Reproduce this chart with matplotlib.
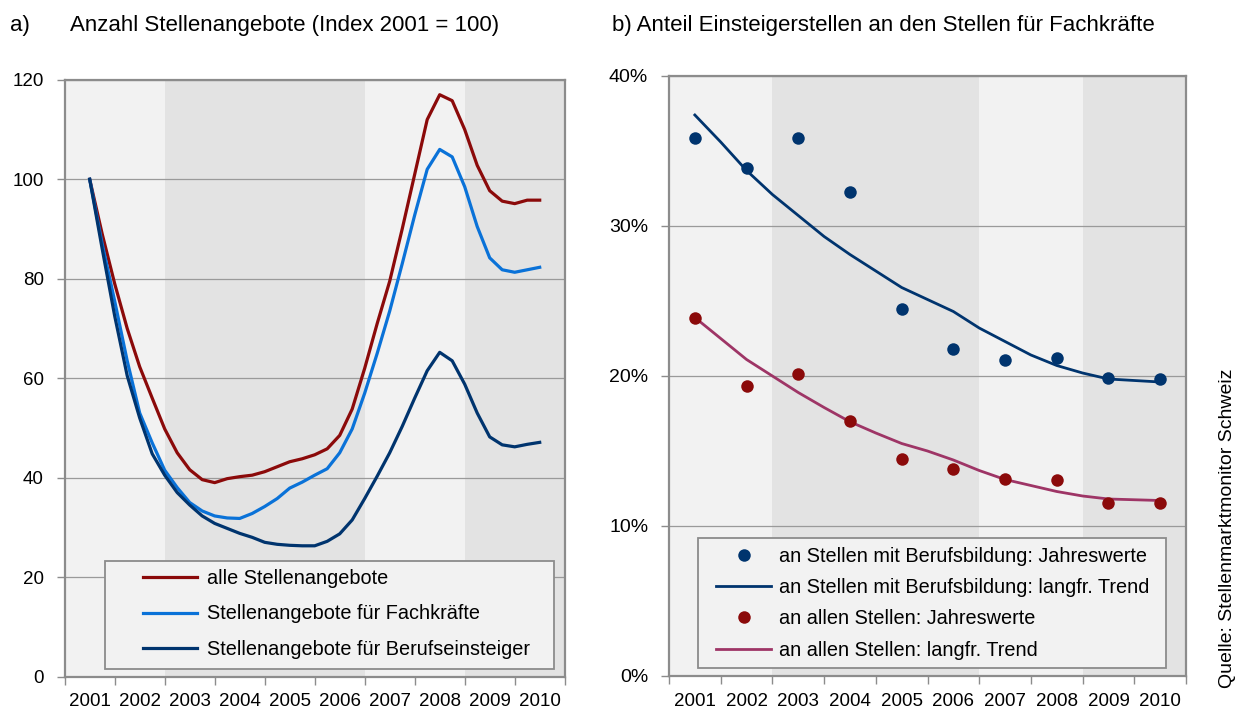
import numpy as np
import matplotlib
matplotlib.use('Agg')
import matplotlib.pyplot as plt
from matplotlib.patches import Rectangle
from matplotlib.lines import Line2D

plt.rcParams['font.family'] = ['Liberation Sans', 'DejaVu Sans']

# ---- a) Anzahl Stellenangebote, quarterly values 2001..2010 (Index 2001 = 100)
quartale = np.arange(2001, 2010.001, 0.25)
alle = [100, 89, 79, 70, 62.3, 56, 49.8, 45, 41.6, 39.6, 39.0, 39.8, 40.2,
        40.5, 41.2, 42.2, 43.2, 43.8, 44.6, 45.8, 48.5, 53.8, 62, 71, 79.5,
        90, 101, 112, 117, 115.8, 110, 102.8, 97.7, 95.6, 95.1, 95.8, 95.8]
fachkraefte = [100, 87, 75.5, 63.5, 53, 47, 41.5, 38, 35, 33.3, 32.3, 31.9,
               31.8, 32.8, 34.2, 35.8, 37.9, 39.1, 40.5, 41.8, 45, 49.8, 57,
               65, 73.5, 83, 92.8, 102, 106, 104.5, 98.5, 90.5, 84.2, 81.8,
               81.3, 81.8, 82.3]
einsteiger = [100, 86, 72.5, 60.5, 52, 44.8, 40.5, 37, 34.5, 32.3, 30.8, 29.8,
              28.8, 28.0, 27.0, 26.6, 26.4, 26.3, 26.3, 27.2, 28.7, 31.5, 35.8,
              40.3, 45, 50.3, 56, 61.5, 65.2, 63.5, 58.8, 53, 48.2, 46.6, 46.2,
              46.7, 47.1]

# ---- b) Anteil Einsteigerstellen (in %)
jahre = np.arange(2001, 2011)
bb_jahr = [35.9, 33.85, 35.9, 32.25, 24.5, 21.8, 21.05, 21.2, 19.9, 19.8]
alle_jahr = [23.9, 19.35, 20.15, 17.0, 14.45, 13.8, 13.15, 13.05, 11.55, 11.55]
halbjahre = np.arange(2001, 2010.001, 0.5)
bb_trend = [37.4, 35.6, 33.7, 32.1, 30.7, 29.3, 28.1, 27.0, 25.9, 25.1, 24.3,
            23.2, 22.3, 21.4, 20.7, 20.2, 19.8, 19.7, 19.6]
alle_trend = [23.9, 22.5, 21.1, 20.0, 18.9, 17.9, 16.95, 16.2, 15.5, 15.0, 14.4,
              13.7, 13.1, 12.7, 12.3, 12.0, 11.8, 11.75, 11.7]

ROT = '#8b0a0a'
HELLBLAU = '#0a72d8'
NAVY = '#00346e'
BEERE = '#9e3566'
HELL = '#f2f2f2'
DUNKEL = '#e3e3e3'
GRAU = '#8c8c8c'


def style_axes(ax):
  ax.set_facecolor(HELL)
  ax.axvspan(2002.5, 2006.5, color=DUNKEL, lw=0, zorder=0)
  ax.axvspan(2008.5, 2010.5, color=DUNKEL, lw=0, zorder=0)
  ax.set_xlim(2000.5, 2010.5)
  ax.set_xticks(jahre)
  ax.set_xticklabels([str(j) for j in jahre], fontsize=13.5)
  ax.set_xticks(np.arange(2000.5, 2011, 1), minor=True)
  ax.tick_params(axis='x', which='major', length=0, pad=12)
  ax.tick_params(axis='x', which='minor', length=6, color=GRAU, width=1)
  ax.tick_params(axis='y', length=6, color=GRAU, width=1, pad=9)
  ax.set_axisbelow(True)
  ax.grid(axis='y', color='#9a9a9a', lw=0.9)
  for s in ax.spines.values():
    s.set_color(GRAU)
    s.set_linewidth(1.6)


fig = plt.figure(figsize=(12.41, 7.2), dpi=100)

# ---------------- panel a
ax1 = fig.add_axes([64.7 / 1241, 43.4 / 720, 500 / 1241, 596.8 / 720])
style_axes(ax1)
ax1.set_ylim(0, 120)
ax1.set_yticks(range(0, 121, 20))
ax1.tick_params(axis='y', labelsize=13.5)
ax1.plot(quartale, alle, color=ROT, lw=2.3, label='alle Stellenangebote')
ax1.plot(quartale, fachkraefte, color=HELLBLAU, lw=2.3,
         label='Stellenangebote für Fachkräfte')
ax1.plot(quartale, einsteiger, color=NAVY, lw=2.3,
         label='Stellenangebote für Berufseinsteiger')

ax1.add_patch(Rectangle((0.0806, 0.0127), 0.898, 0.181, transform=ax1.transAxes,
                        facecolor=HELL, edgecolor=GRAU, lw=1.3, zorder=3))
leg1 = ax1.legend(loc='upper left', bbox_to_anchor=(0.1566, 0.180),
                  frameon=False, borderpad=0, borderaxespad=0, fontsize=14.3,
                  handlelength=2.7, handletextpad=0.5, labelspacing=0.82)
leg1.set_zorder(4)

# ---------------- panel b
ax2 = fig.add_axes([669 / 1241, 44 / 720, 517 / 1241, 600 / 720])
style_axes(ax2)
ax2.set_ylim(0, 40)
ax2.set_yticks(range(0, 41, 10))
ax2.set_yticklabels(['%d%%' % v for v in range(0, 41, 10)])
ax2.tick_params(axis='y', labelsize=14)
ax2.plot(halbjahre, bb_trend, color=NAVY, lw=2.0)
ax2.plot(halbjahre, alle_trend, color=BEERE, lw=2.0)
ax2.plot(jahre, bb_jahr, 'o', color=NAVY, ms=9, mec='none')
ax2.plot(jahre, alle_jahr, 'o', color=ROT, ms=9, mec='none')

ax2.add_patch(Rectangle((0.0561, 0.0133), 0.905, 0.217, transform=ax2.transAxes,
                        facecolor=HELL, edgecolor=GRAU, lw=1.3, zorder=3))
handles = [
  Line2D([], [], ls='none', marker='o', color=NAVY, ms=9, mec='none'),
  Line2D([], [], color=NAVY, lw=2.0),
  Line2D([], [], ls='none', marker='o', color=ROT, ms=9, mec='none'),
  Line2D([], [], color=BEERE, lw=2.0),
]
labels = ['an Stellen mit Berufsbildung: Jahreswerte',
          'an Stellen mit Berufsbildung: langfr. Trend',
          'an allen Stellen: Jahreswerte',
          'an allen Stellen: langfr. Trend']
leg2 = ax2.legend(handles, labels, loc='upper left',
                  bbox_to_anchor=(0.0909, 0.2155), frameon=False, borderpad=0,
                  borderaxespad=0, fontsize=14.3, handlelength=2.77,
                  handletextpad=0.4, labelspacing=0.62, numpoints=1)
leg2.set_zorder(4)

# ---------------- titles and source
fig.text(10 / 1241, 1 - 25 / 720, 'a)', fontsize=16, va='center')
fig.text(70 / 1241, 1 - 25 / 720, 'Anzahl Stellenangebote (Index 2001 = 100)',
         fontsize=16, va='center')
fig.text(612 / 1241, 1 - 25 / 720,
         'b) Anteil Einsteigerstellen an den Stellen für Fachkräfte',
         fontsize=16, va='center')
fig.text(1228 / 1241, 32 / 720, 'Quelle: Stellenmarktmonitor Schweiz',
         fontsize=14, rotation=90, ha='center', va='bottom')

fig.savefig('out.png', dpi=100, facecolor='white')
